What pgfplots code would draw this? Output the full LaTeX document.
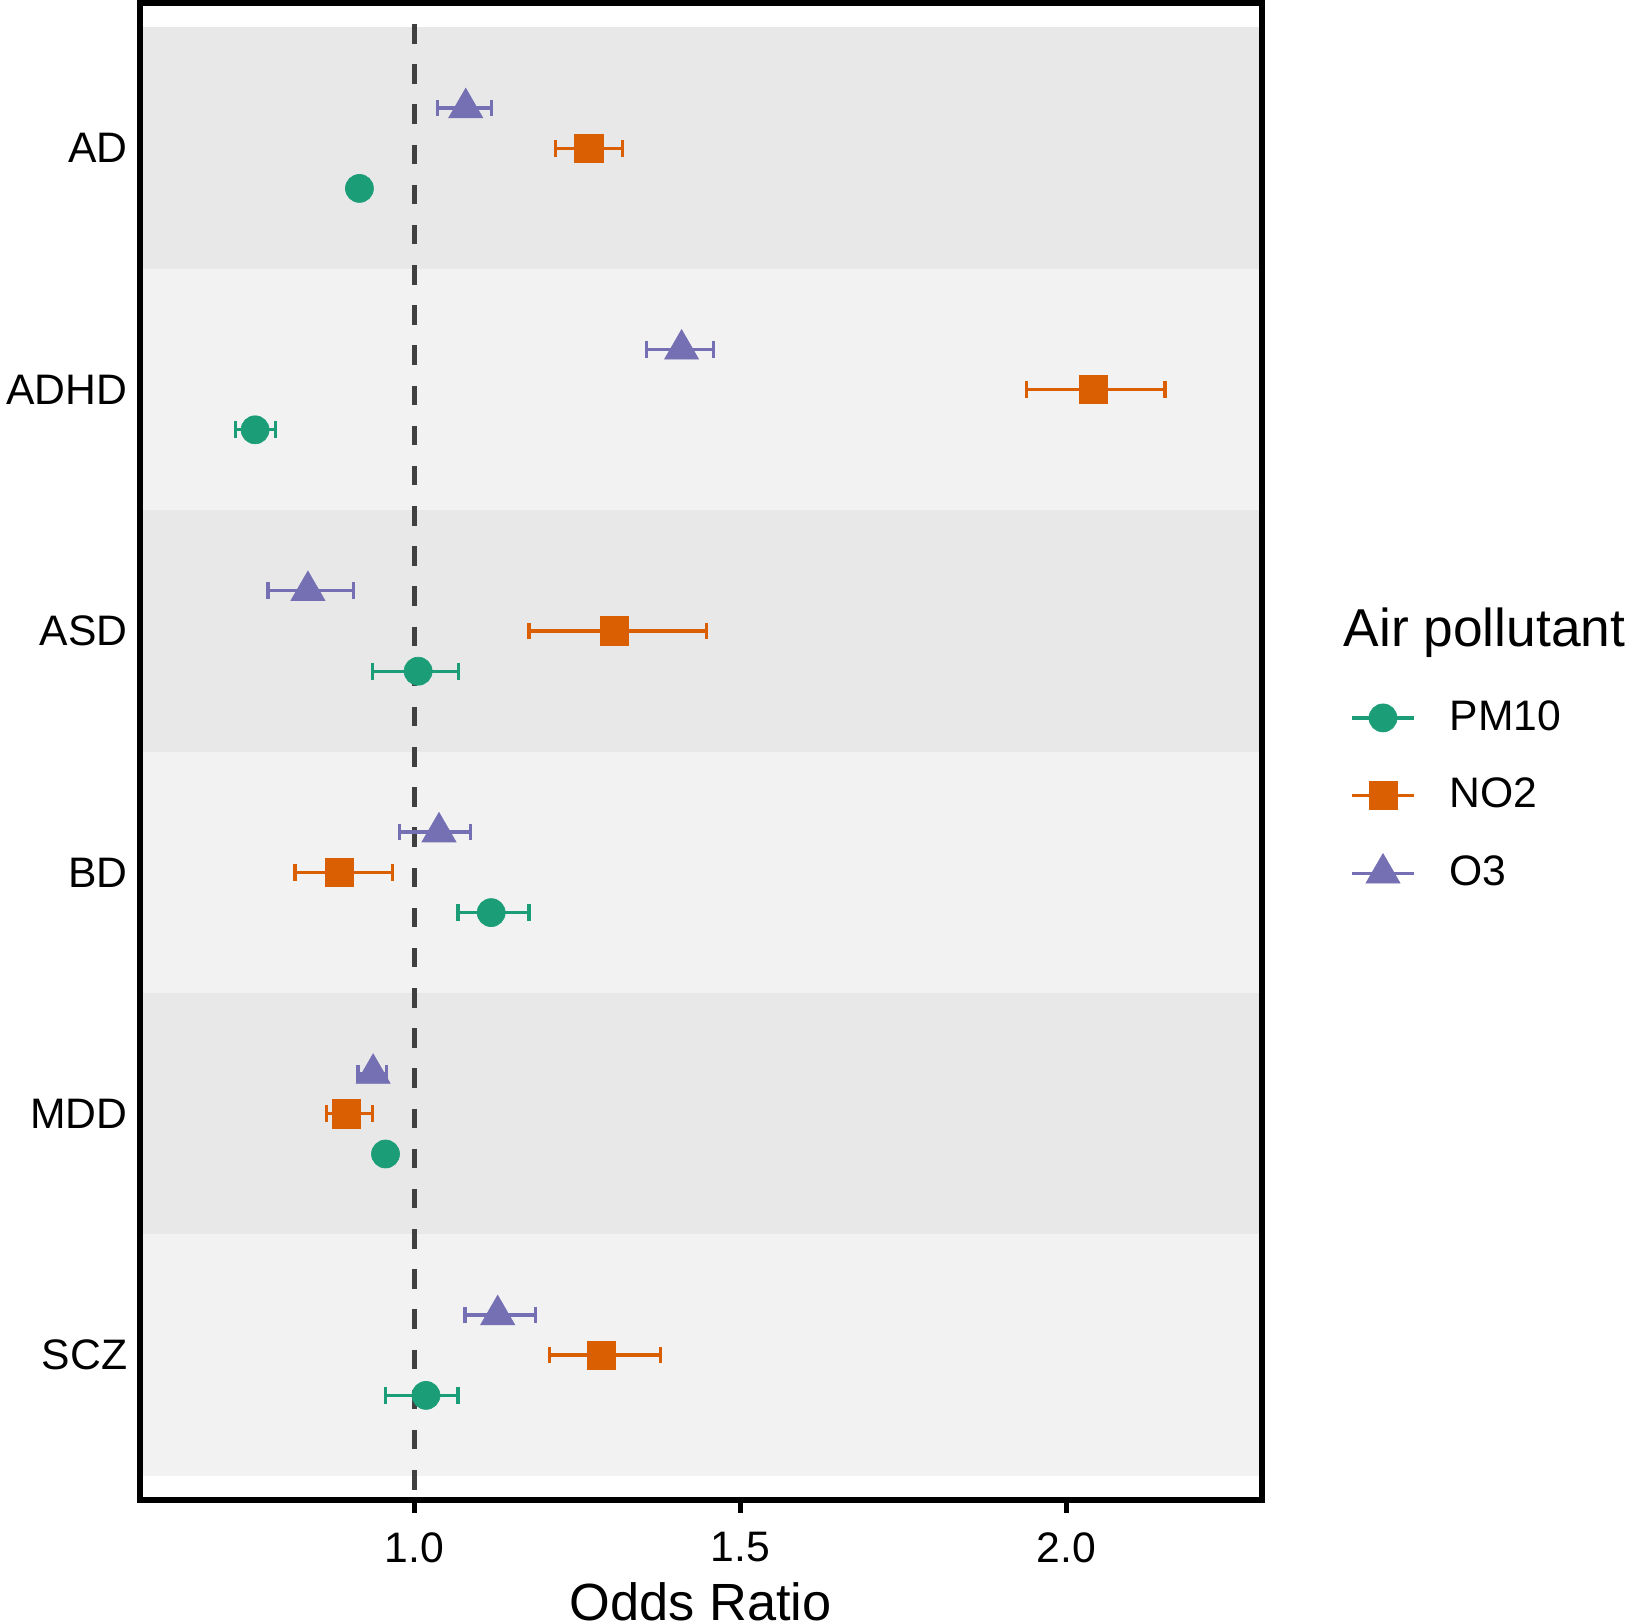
\documentclass[border=0pt]{standalone}
\usepackage{pgfplots}
\pgfplotsset{compat=1.18}
\usepackage{pgfplotstable}
\usepackage{fontspec}
\setmainfont{Liberation Sans}

\definecolor{pmgreen}{HTML}{1B9E77}
\definecolor{noorange}{HTML}{D95F02}
\definecolor{ozpurple}{HTML}{7570B3}
\definecolor{banddark}{HTML}{E8E8E8}
\definecolor{bandlight}{HTML}{F2F2F2}
\definecolor{refline}{HTML}{404040}

% pos: row of the disorder (AD = 6 ... SCZ = 1), dodged by 1/6 per pollutant
% or: odds ratio, lo/hi: 95% confidence interval
\pgfplotstableread{
pos     or     lo     hi
5.8333  0.916  0.903  0.929
4.8333  0.756  0.726  0.787
3.8333  1.006  0.936  1.068
2.8333  1.118  1.067  1.176
1.8333  0.956  0.945  0.967
0.8333  1.018  0.956  1.067
}\pmten

\pgfplotstableread{
pos     or     lo     hi
6.0000  1.268  1.217  1.319
5.0000  2.041  1.939  2.151
4.0000  1.307  1.176  1.448
3.0000  0.885  0.817  0.967
2.0000  0.896  0.865  0.936
1.0000  1.287  1.207  1.378
}\notwo

\pgfplotstableread{
pos     or     lo     hi
6.1667  1.079  1.036  1.118
5.1667  1.410  1.356  1.459
4.1667  0.837  0.776  0.907
3.1667  1.038  0.977  1.086
2.1667  0.937  0.914  0.958
1.1667  1.128  1.078  1.186
}\othree

\begin{document}
\begin{tikzpicture}
\begin{axis}[
  name=ax,
  at={(0,0)}, anchor=south west,
  scale only axis,
  width=336.7pt, height=449pt,
  xmin=0.579, xmax=2.300,
  ymin=0.4, ymax=6.6,
  axis on top,
  axis line style={line width=1.8pt, black},
  tick align=outside,
  major tick length=3.9pt,
  xtick={1,1.5,2},
  xticklabels={1.0,1.5,2.0},
  xtick pos=bottom,
  xtick style={line width=1.6pt, black},
  xticklabel style={font=\fontsize{12.8}{15}\selectfont, inner sep=0pt, anchor=north, yshift=-5.6pt},
  ytick={1,2,3,4,5,6},
  yticklabels={SCZ,MDD,BD,ASD,ADHD,AD},
  ytick pos=left,
  ytick style={draw=none},
  yticklabel style={font=\fontsize{12.8}{15}\selectfont, inner sep=0pt, anchor=east, xshift=0.4pt},
  xlabel={Odds Ratio},
  xlabel style={at={(axis description cs:0.5,0)}, anchor=north, inner sep=0pt, yshift=-24.6pt, font=\fontsize{15.7}{18}\selectfont},
  legend style={at={(axis description cs:1.0784,0.5485)}, anchor=north west, draw=none, fill=none,
    inner sep=0pt, outer sep=0pt, row sep=0pt, column sep=0pt,
    font=\fontsize{12.8}{15}\selectfont, nodes={inner sep=0pt}},
  legend cell align=left,
  legend image code/.code={
    \path[draw=none, fill=none] (0pt,-11.65pt) rectangle (29.4pt,11.65pt);
    \draw[mark repeat=2,mark phase=2,#1] plot coordinates {(0pt,0pt) (9.4pt,0pt) (18.8pt,0pt)};
  },
]

% alternating background bands, one per disorder
\addplot[fill=banddark, draw=none, forget plot] coordinates {(0.5,5.5) (2.4,5.5) (2.4,6.5) (0.5,6.5)} --cycle;
\addplot[fill=bandlight, draw=none, forget plot] coordinates {(0.5,4.5) (2.4,4.5) (2.4,5.5) (0.5,5.5)} --cycle;
\addplot[fill=banddark, draw=none, forget plot] coordinates {(0.5,3.5) (2.4,3.5) (2.4,4.5) (0.5,4.5)} --cycle;
\addplot[fill=bandlight, draw=none, forget plot] coordinates {(0.5,2.5) (2.4,2.5) (2.4,3.5) (0.5,3.5)} --cycle;
\addplot[fill=banddark, draw=none, forget plot] coordinates {(0.5,1.5) (2.4,1.5) (2.4,2.5) (0.5,2.5)} --cycle;
\addplot[fill=bandlight, draw=none, forget plot] coordinates {(0.5,0.5) (2.4,0.5) (2.4,1.5) (0.5,1.5)} --cycle;

% null effect reference line
\addplot[refline, line width=1.4pt, dash pattern=on 5.85pt off 6.2pt, dash phase=5.85pt, forget plot]
  coordinates {(1,6.6) (1,0.4)};

% PM10
\addplot[forget plot, only marks, color=pmgreen, mark=*, mark size=4.2pt,
  mark options={solid, line width=0.2pt},
  error bars/.cd, x dir=both, x explicit,
  error bar style={line width=1pt, solid},
  error mark options={rotate=90, mark size=2.5pt, line width=1pt}]
  table[x=or, y=pos, x error plus expr=\thisrow{hi}-\thisrow{or}, x error minus expr=\thisrow{or}-\thisrow{lo}] {\pmten};

% NO2
\addplot[forget plot, only marks, color=noorange, mark=square*, mark size=4.25pt,
  mark options={solid, line width=0.2pt},
  error bars/.cd, x dir=both, x explicit,
  error bar style={line width=1pt, solid},
  error mark options={rotate=90, mark size=2.5pt, line width=1pt}]
  table[x=or, y=pos, x error plus expr=\thisrow{hi}-\thisrow{or}, x error minus expr=\thisrow{or}-\thisrow{lo}] {\notwo};

% O3
\addplot[forget plot, only marks, color=ozpurple, mark=triangle*, mark size=5.9pt,
  mark options={solid, line width=0.2pt},
  error bars/.cd, x dir=both, x explicit,
  error bar style={line width=1pt, solid},
  error mark options={rotate=90, mark size=2.5pt, line width=1pt}]
  table[x=or, y=pos, x error plus expr=\thisrow{hi}-\thisrow{or}, x error minus expr=\thisrow{or}-\thisrow{lo}] {\othree};

\addlegendimage{pmgreen, line width=1pt, mark=*, mark size=4.2pt, mark options={solid, line width=0.2pt}}
\addlegendentry{PM10}
\addlegendimage{noorange, line width=1pt, mark=square*, mark size=4.25pt, mark options={solid, line width=0.2pt}}
\addlegendentry{NO2}
\addlegendimage{ozpurple, line width=1pt, mark=triangle*, mark size=5.9pt, mark options={solid, line width=0.2pt}}
\addlegendentry{O3}
\end{axis}

% legend title
\node[anchor=north west, inner sep=0pt, font=\fontsize{16}{19}\selectfont]
  at ([xshift=361pt,yshift=267.9pt]ax.south west) {Air pollutant};

\pgfresetboundingbox
\path[use as bounding box] ([xshift=-41.9pt,yshift=-37.2pt]ax.south west) rectangle ++(487.5pt,487.2pt);
\end{tikzpicture}
\end{document}
